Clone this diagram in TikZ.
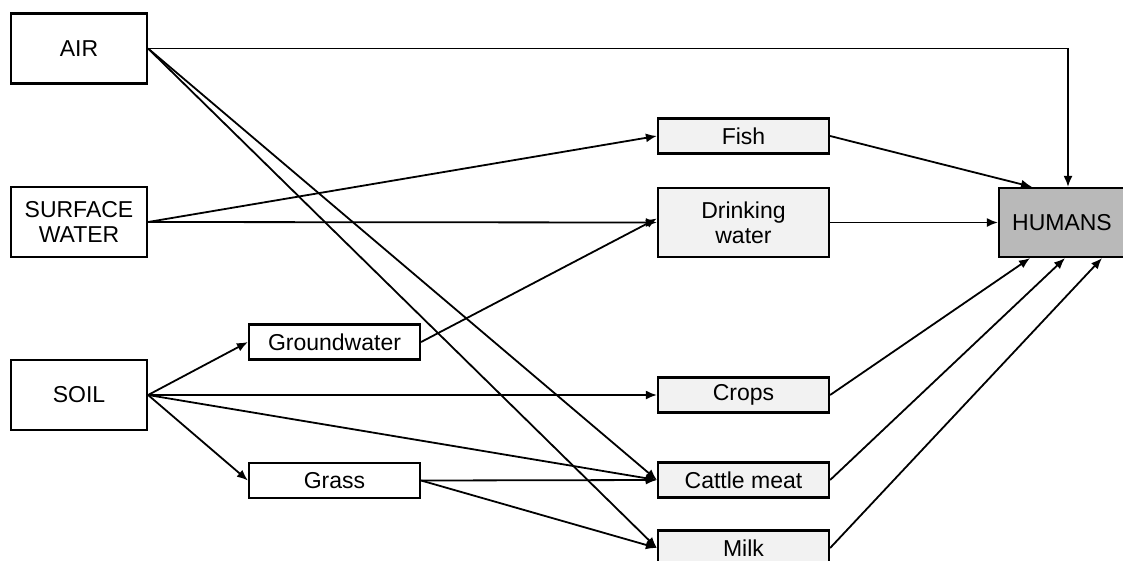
\documentclass[tikz,border=0pt]{standalone}
\usepackage{fontspec}
\setmainfont{Liberation Sans}
\usetikzlibrary{arrows.meta,positioning}

\begin{document}
\begin{tikzpicture}[
  x=1pt, y=-1pt,
  box/.style={draw, line width=2.2pt, inner sep=0pt, align=center, font=\fontsize{23}{25}\selectfont},
  source/.style={box, fill=white, minimum width=136pt, minimum height=70pt},
  via/.style={box, fill=white, minimum width=171pt, minimum height=35pt},
  food/.style={box, fill=gray!10, minimum width=171pt, minimum height=35pt},
  target/.style={box, fill=gray!55, minimum width=126pt, minimum height=69pt},
  arr/.style={-{Latex[length=11pt,width=9pt]}, line width=1.8pt}
]
\useasboundingbox (0,0) rectangle (1123,560);

% sources
\node[source] (air) at (79,48.5) {AIR};
\node[source] (sw) at (79,222) {SURFACE\\WATER};
\node[source] (soil) at (79,395) {SOIL};

% intermediate media
\node[via] (gw) at (334.5,342) {Groundwater};
\node[via] (grass) at (334.5,480.5) {Grass};

% exposure routes
\node[food] (fish) at (743.5,136) {Fish};
\node[food, minimum height=69pt] (drink) at (743.5,222.5) {Drinking\\water};
\node[food] (crops) at (743.5,395) {Crops};
\node[food] (cattle) at (743.5,480) {Cattle meat};
\node[food] (milk) at (743.5,548) {Milk};

\node[target] (hum) at (1062,222.5) {HUMANS};

\draw[arr] (air.east) -| ([xshift=6pt]hum.north);
\draw[arr] (air.east) -- (cattle.west);
\draw[arr] (air.east) -- (milk.west);

\draw[arr] (sw.east) -- (fish.west);
\draw[arr] (sw.east) -- (drink.west);

\draw[arr] (soil.east) -- (gw.west);
\draw[arr] (soil.east) -- (crops.west);
\draw[arr] (soil.east) -- (cattle.west);
\draw[arr] (soil.east) -- (grass.west);

\draw[arr] (gw.east) -- ([yshift=4pt]drink.west);
\draw[arr] (grass.east) -- (cattle.west);
\draw[arr] (grass.east) -- (milk.west);

\draw[arr] (fish.east) -- ([xshift=-30pt]hum.north);
\draw[arr] (drink.east) -- (hum.west);
\draw[arr] (crops.east) -- ([xshift=-32pt]hum.south);
\draw[arr] (cattle.east) -- ([xshift=3pt]hum.south);
\draw[arr] (milk.east) -- ([xshift=40pt]hum.south);

\end{tikzpicture}
\end{document}
